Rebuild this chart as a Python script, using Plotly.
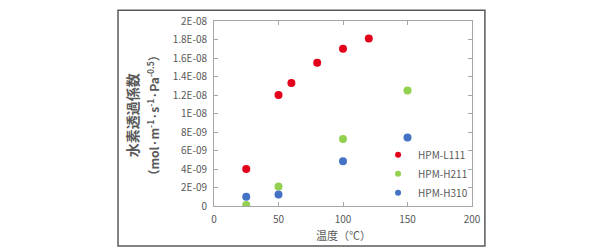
import plotly.graph_objects as go

# Data
red_x = [25, 50, 60, 80, 100, 120]
red_y = [4.0e-9, 1.2e-8, 1.33e-8, 1.55e-8, 1.70e-8, 1.81e-8]
green_x = [25, 50, 100, 150]
green_y = [1.0e-10, 2.1e-9, 7.25e-9, 1.25e-8]
blue_x = [25, 50, 100, 150]
blue_y = [1.0e-9, 1.25e-9, 4.85e-9, 7.4e-9]
series_names = ["HPM-L111", "HPM-H211", "HPM-H310"]
colors = ["#E3001B", "#92D050", "#4472C4"]

y_tickvals = [0, 2e-9, 4e-9, 6e-9, 8e-9, 1e-8, 1.2e-8, 1.4e-8, 1.6e-8, 1.8e-8, 2e-8]
y_ticktext = ["0", "2E-09", "4E-09", "6E-09", "8E-09", "1E-08", "1.2E-08", "1.4E-08", "1.6E-08", "1.8E-08", "2E-08"]
x_tickvals = [0, 50, 100, 150, 200]

FONT = "Noto Sans CJK JP"
GRAY = "#595959"

fig = go.Figure()
for xs, ys, c in zip([red_x, green_x, blue_x], [red_y, green_y, blue_y], colors):
    fig.add_trace(go.Scatter(x=xs, y=ys, mode="markers", showlegend=False,
                             marker=dict(color=c, size=8, line=dict(width=0))))
for name, c in zip(series_names, colors):
    fig.add_trace(go.Scatter(x=[None], y=[None], mode="markers", name=name,
                             marker=dict(color=c, size=6, line=dict(width=0))))

fig.update_layout(
    width=590, height=250,
    margin=dict(l=214, r=118, t=16, b=44),
    paper_bgcolor="white", plot_bgcolor="white",
    font=dict(family=FONT, size=10, color=GRAY),
    legend=dict(x=0.636, y=0.356, xanchor="left", yanchor="top",
                bgcolor="rgba(0,0,0,0)", font=dict(size=10, color=GRAY),
                itemwidth=30, tracegroupgap=0),
    xaxis=dict(range=[0, 200], tickvals=x_tickvals, ticks="inside", ticklen=4,
               tickcolor="#a6a6a6", showline=True, linecolor="#a6a6a6", linewidth=1,
               mirror="allticks", showgrid=False, zeroline=False, ticklabelstandoff=4,
               tickfont=dict(size=10, color=GRAY)),
    yaxis=dict(range=[0, 2e-8], tickvals=y_tickvals, ticktext=y_ticktext,
               ticks="inside", ticklen=4, tickcolor="#a6a6a6", showline=True,
               linecolor="#a6a6a6", linewidth=1, mirror="allticks", ticklabelstandoff=4,
               showgrid=False, zeroline=False, tickfont=dict(size=10, color=GRAY)),
)

fig.add_annotation(text="温度（℃）", xref="paper", yref="paper", x=0.5, y=-0.155,
                   showarrow=False, xanchor="center", yanchor="middle",
                   font=dict(family=FONT, size=11, color=GRAY))
fig.add_annotation(text="<b>水素透過係数</b>", xref="paper", yref="paper", x=-0.318, y=0.49,
                   showarrow=False, textangle=-90, xanchor="center", yanchor="middle",
                   font=dict(family=FONT, size=14, color=GRAY))
fig.add_annotation(text="<b>（mol·m<sup>-1</sup>·s<sup>-1</sup>·Pa<sup>-0.5</sup>）</b>",
                   xref="paper", yref="paper", x=-0.236, y=0.49,
                   showarrow=False, textangle=-90, xanchor="center", yanchor="middle",
                   font=dict(family=FONT, size=12, color=GRAY))

fig.add_shape(type="rect", xref="paper", yref="paper", x0=-0.372, x1=1.05, y0=-0.216, y1=1.058,
              line=dict(color="#595959", width=1.5), fillcolor="rgba(0,0,0,0)", layer="below")

fig.write_html("out.html")
